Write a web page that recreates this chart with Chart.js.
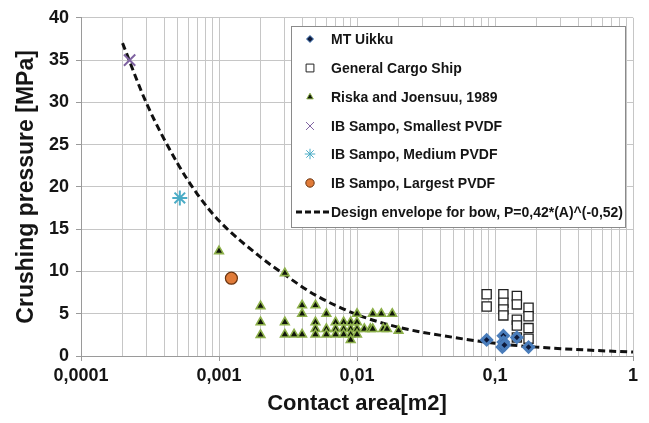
<!DOCTYPE html>
<html>
<head>
<meta charset="utf-8">
<script src="https://cdn.jsdelivr.net/npm/chart.js@4.4.0/dist/chart.umd.min.js"></script>
<style>
html, body { margin: 0; padding: 0; background: #fff; }
#wrap { width: 649px; height: 423px; }
</style>
</head>
<body>
<div id="wrap"><canvas id="crushChart" width="649" height="423"></canvas></div>
<script>
// x axis (log) - major ticks and their labels
const majorTicks = [0.0001, 0.001, 0.01, 0.1, 1];
const majorLabels = ['0,0001', '0,001', '0,01', '0,1', '1'];

// y axis
const yTicks = [0, 5, 10, 15, 20, 25, 30, 35, 40];

// MT Uikku
const uikkuArea = [0.087, 0.115, 0.115, 0.113, 0.117, 0.144, 0.175];
const uikkuPressure = [1.9, 2.4, 1.65, 1.05, 1.3, 2.2, 1.05];

// General Cargo Ship
const cargoArea = [0.087, 0.087, 0.115, 0.115, 0.115, 0.115, 0.144, 0.144, 0.144, 0.144, 0.144, 0.175, 0.175, 0.175, 0.175];
const cargoPressure = [7.3, 5.85, 7.3, 6.3, 5.5, 4.8, 7.1, 6.1, 4.3, 3.6, 2.2, 5.7, 4.7, 3.3, 2.05];

// Riska and Joensuu, 1989
const riskaArea = [
    0.001,
    0.002, 0.002, 0.002,
    0.003, 0.003, 0.003,
    0.0035,
    0.004, 0.004, 0.004,
    0.005, 0.005, 0.005, 0.005,
    0.006, 0.006, 0.006,
    0.007, 0.007, 0.007,
    0.008, 0.008, 0.008,
    0.009, 0.009, 0.009, 0.009,
    0.01, 0.01, 0.01, 0.01,
    0.0113, 0.0125, 0.013, 0.013, 0.015, 0.0155, 0.0165, 0.018, 0.02
];
const riskaPressure = [
    12.4,
    5.9, 4.0, 2.5,
    9.8, 4.0, 2.55,
    2.55,
    6.0, 5.0, 2.55,
    6.0, 4.0, 3.2, 2.55,
    5.0, 3.2, 2.55,
    4.0, 3.2, 2.55,
    4.0, 3.2, 2.55,
    4.0, 3.2, 2.55, 1.9,
    5.0, 4.0, 3.2, 2.55,
    3.2, 3.2, 5.0, 3.2, 5.0, 3.2, 3.2, 5.0, 3.0
];

// IB Sampo
const smallestArea = [0.000225];
const smallestPressure = [35];
const mediumArea = [0.00052];
const mediumPressure = [18.7];
const largestArea = [0.00123];
const largestPressure = [9.2];

// Design envelope for bow
const envelopeArea = [0.0002, 0.0003, 0.0005, 0.0007, 0.001, 0.002, 0.003, 0.005, 0.01, 0.02, 0.05, 0.1, 0.2, 0.5, 1];
const envelopePressure = [37, 29.8, 22.8, 19.1, 16, 11.7, 9.6, 7.2, 4.9, 3.4, 2.2, 1.5, 1.05, 0.68, 0.46];

function pts(xs, ys) {
    return xs.map((x, i) => ({ x: x, y: ys[i] }));
}

function isMajor(v) {
    return majorTicks.some(m => Math.abs(m - v) / m < 1e-6);
}

// all log grid lines: 1..9 x 10^k
const gridValues = [];
majorTicks.forEach((m, i) => {
    if (i == majorTicks.length - 1) { gridValues.push(m); return; }
    for (let k = 1; k < 10; k++) gridValues.push(m * k);
});

const textColor = '#151515';
const gridColor = '#c6c6c6';
const axisColor = '#9a9a9a';

const datasets = [{
    label: 'MT Uikku',
    data: pts(uikkuArea, uikkuPressure),
    pointStyle: 'rectRot',
    pointRadius: 5,
    backgroundColor: '#0e1a3a',
    borderColor: '#4a7dbb',
    borderWidth: 3
}, {
    label: 'General Cargo Ship',
    data: pts(cargoArea, cargoPressure),
    pointStyle: 'rect',
    pointRadius: 6.5,
    backgroundColor: '#ffffff',
    borderColor: '#222222',
    borderWidth: 1.3
}, {
    label: 'Riska and Joensuu, 1989',
    data: pts(riskaArea, riskaPressure),
    pointStyle: 'triangle',
    pointRadius: 5,
    backgroundColor: '#10160a',
    borderColor: '#8db04a',
    borderWidth: 1.6
}, {
    label: 'IB Sampo, Smallest PVDF',
    data: pts(smallestArea, smallestPressure),
    pointStyle: 'crossRot',
    pointRadius: 8,
    backgroundColor: '#8064a2',
    borderColor: '#8064a2',
    borderWidth: 2
}, {
    label: 'IB Sampo, Medium PVDF',
    data: pts(mediumArea, mediumPressure),
    pointStyle: 'star',
    pointRadius: 7.5,
    backgroundColor: '#4bacc6',
    borderColor: '#4bacc6',
    borderWidth: 2
}, {
    label: 'IB Sampo, Largest PVDF',
    data: pts(largestArea, largestPressure),
    pointStyle: 'circle',
    pointRadius: 6,
    backgroundColor: '#e07b39',
    borderColor: '#6b3510',
    borderWidth: 1.2
}, {
    label: 'Design envelope for bow, P=0,42*(A)^(-0,52)',
    type: 'line',
    data: pts(envelopeArea, envelopePressure),
    showLine: true,
    pointRadius: 0,
    borderColor: '#111111',
    borderWidth: 3,
    borderDash: [7, 4],
    cubicInterpolationMode: 'monotone',
    fill: false
}];

// legend drawn inside the plot, like the original
const legendScale = [0.7, 0.85, 0.75, 0.7, 0.7, 0.7];
const boxLegend = {
    id: 'boxLegend',
    afterDraw(chart) {
        const ctx = chart.ctx;
        const left = 291, top = 26, right = 625, bottom = 227;
        const rows = [39, 68, 97, 126, 154, 183, 212];
        ctx.save();
        ctx.fillStyle = '#ffffff';
        ctx.fillRect(left, top, right - left, bottom - top);
        ctx.strokeStyle = '#8a8a8a';
        ctx.lineWidth = 1;
        ctx.strokeRect(left + 0.5, top + 0.5, right - left, bottom - top);
        ctx.font = 'bold 14px "Liberation Sans", Arial, sans-serif';
        ctx.textBaseline = 'middle';
        ctx.textAlign = 'left';
        chart.data.datasets.forEach((ds, i) => {
            const y = rows[i];
            if (ds.type === 'line') {
                ctx.strokeStyle = ds.borderColor;
                ctx.lineWidth = 3;
                ctx.setLineDash([6, 3]);
                ctx.beginPath();
                ctx.moveTo(296, y);
                ctx.lineTo(329, y);
                ctx.stroke();
                ctx.setLineDash([]);
            } else {
                ctx.fillStyle = ds.backgroundColor;
                ctx.strokeStyle = ds.borderColor;
                Chart.helpers.drawPoint(ctx, {
                    pointStyle: ds.pointStyle,
                    radius: ds.pointRadius * legendScale[i],
                    rotation: 0,
                    borderWidth: Math.min(ds.borderWidth, 1.6)
                }, 310, y);
            }
            ctx.fillStyle = textColor;
            ctx.fillText(ds.label, 331, y + 1);
        });
        ctx.restore();
    }
};

const crushChart = new Chart(document.getElementById('crushChart'), {
    type: 'scatter',
    data: { datasets: datasets },
    plugins: [boxLegend],
    options: {
        responsive: false,
        animation: false,
        devicePixelRatio: 1,
        layout: { padding: { left: 0, right: 16, top: 16, bottom: 0 } },
        plugins: {
            legend: { display: false },
            tooltip: { enabled: false }
        },
        scales: {
            x: {
                type: 'logarithmic',
                min: 0.0001,
                max: 1,
                afterBuildTicks: scale => {
                    scale.ticks = gridValues.map(v => ({ value: v, major: isMajor(v) }));
                },
                afterFit: scale => { scale.height = 67; },
                ticks: {
                    autoSkip: false,
                    maxRotation: 0,
                    padding: 4,
                    color: textColor,
                    font: { family: '"Liberation Sans", Arial, sans-serif', size: 18, weight: 'bold' },
                    callback: value => {
                        const i = majorTicks.findIndex(m => Math.abs(m - value) / m < 1e-6);
                        return i >= 0 ? majorLabels[i] : '';
                    }
                },
                grid: {
                    color: gridColor,
                    lineWidth: 1,
                    tickLength: 5,
                    tickColor: ctx => (ctx.tick && isMajor(ctx.tick.value)) ? axisColor : 'rgba(0,0,0,0)'
                },
                border: { color: axisColor, width: 1 },
                title: {
                    display: true,
                    text: 'Contact area[m2]',
                    color: textColor,
                    font: { family: '"Liberation Sans", Arial, sans-serif', size: 22, weight: 'bold' },
                    padding: { top: 0, bottom: 6 }
                }
            },
            y: {
                min: 0,
                max: 40,
                afterBuildTicks: scale => {
                    scale.ticks = yTicks.map(v => ({ value: v }));
                },
                afterFit: scale => { scale.width = 81; },
                ticks: {
                    padding: 7,
                    color: textColor,
                    font: { family: '"Liberation Sans", Arial, sans-serif', size: 18, weight: 'bold' },
                    callback: value => String(value)
                },
                grid: {
                    color: gridColor,
                    lineWidth: 1,
                    tickLength: 5,
                    tickColor: axisColor
                },
                border: { color: axisColor, width: 1 },
                title: {
                    display: true,
                    text: 'Crushing pressure [MPa]',
                    color: textColor,
                    font: { family: '"Liberation Sans", Arial, sans-serif', size: 23, weight: 'bold' },
                    padding: { top: 13, bottom: 0 }
                }
            }
        }
    }
});
</script>
</body>
</html>
